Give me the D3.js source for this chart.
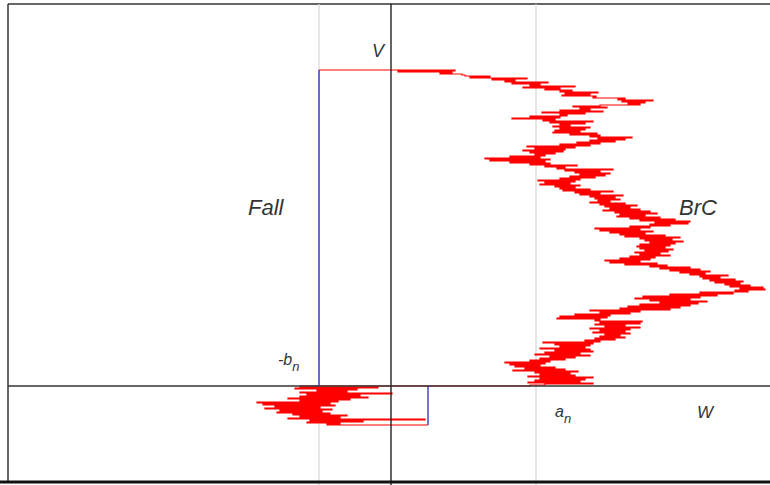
<!DOCTYPE html>
<html lang="en">
<head>
  <meta charset="UTF-8" />
  <title>BrC and Fall</title>
  <script src="https://d3js.org/d3.v7.min.js"></script>
  <style>
    body { margin: 0; background: #fff; }
    svg { display: block; }
    .lbl { font-family: "Liberation Sans", Arial, sans-serif; font-style: italic; fill: #333; }
  </style>
</head>
<body>
<div id="chart"></div>
<script>
  // levels on the W axis
  const levels = { bn: -72, an: 145 };

  // Brownian walk above the W axis: [W, V], horizontal move to W at height V
  const upperWalk = [
    [-72,316],[64,316],[7,315],[61,314],[49,313],[71,312],[74,311],[99,310],[79,309],[136,308],[101,307],
    [124,306],[114,305],[157,304],[121,303],[149,302],[139,301],[184,300],[132,299],[169,298],[154,297],
    [181,296],[169,295],[207,294],[174,293],[199,292],[171,291],[205,290],[202,289],[234,288],[227,287],
    [262,286],[231,285],[254,284],[237,283],[249,282],[209,281],[182,280],[216,279],[189,278],[199,277],
    [169,276],[212,275],[151,274],[194,273],[169,272],[176,271],[139,270],[169,269],[121,268],[164,267],
    [152,266],[202,265],[159,264],[194,263],[169,262],[179,261],[162,260],[199,259],[169,258],[194,257],
    [164,256],[189,255],[162,254],[206,253],[179,252],[209,251],[199,250],[241,249],[207,248],[234,247],
    [199,246],[224,245],[186,244],[209,243],[169,242],[199,241],[136,240],[184,239],[144,238],[174,237],
    [132,236],[172,235],[139,234],[164,233],[144,232],[154,231],[119,230],[149,229],[94,228],[159,227],
    [99,226],[154,225],[119,224],[159,223],[139,222],[186,221],[154,220],[174,219],[166,218],[222,217],
    [174,216],[209,215],[184,214],[219,213],[189,212],[214,211],[179,210],[204,209],[169,208],[189,207],
    [147,206],[184,205],[154,204],[179,203],[149,202],[189,201],[164,200],[184,199],[169,198],[199,197],
    [172,196],[222,195],[184,194],[209,193],[189,192],[232,191],[199,190],[224,189],[204,188],[229,187],
    [207,186],[219,185],[199,184],[234,183],[209,182],[246,181],[214,180],[239,179],[219,178],[249,177],
    [212,176],[259,175],[224,174],[266,173],[229,172],[254,171],[226,170],[269,169],[239,168],[284,167],
    [249,166],[299,165],[264,164],[297,163],[259,162],[279,161],[239,160],[259,159],[204,158],[249,157],
    [209,156],[262,155],[219,154],[254,153],[229,152],[274,151],[234,150],[289,149],[249,148],[281,147],
    [254,146],[292,145],[259,144],[284,143],[249,142],[279,141],[246,140],[274,139],[249,138],[282,137],
    [254,136],[277,135],[244,134],[269,133],[249,132],[279,131],[239,130],[264,129],[229,128],[259,127],
    [214,126],[249,125],[219,124],[266,123],[234,122],[276,121],[259,120],[299,119],[269,118],[309,117],
    [279,116],[319,115],[289,114],[314,113],[299,112],[337,111],[309,110],[329,109],[312,108],[344,107],
    [319,106],[352,105],[324,104],[349,103],[334,102],[359,101],[339,100],[372,99],[349,98],[374,97],
    [344,96],[357,95],[309,94],[342,93],[279,92],[326,91],[252,90],[309,89],[244,88],[299,87],
    [259,86],[316,85],[269,84],[307,83],[249,82],[299,81],[237,80],[289,79],[229,78],[279,77],
    [199,76],[249,75],[209,74],[239,73],[184,72],[219,71],[169,70],[216,69],[166,68],[209,67],
    [204,66],[251,65],[209,64],[249,63],[204,62],[234,61],[214,60],[249,59],[199,58],[239,57],
    [209,56],[234,55],[202,54],[239,53],[214,52],[229,51],[209,50],[234,49],[204,48],[224,47],
    [194,46],[209,45],[152,44],[202,43],[164,42],[199,41],[169,40],[194,39],[149,38],[199,37],
    [164,36],[202,35],[154,34],[189,33],[144,32],[199,31],[159,30],[184,29],[149,28],[174,27],
    [139,26],[159,25],[114,24],[154,23],[119,22],[149,21],[124,20],[164,19],[134,18],[174,17],
    [122,16],[187,15],[144,14],[179,13],[149,12],[184,11],[137,10],[202,9],[149,8],[194,7],
    [144,6],[189,5],[137,4],[202,3],[154,2],[139,1],[-91,0]
  ];

  // continuation below the W axis
  const lowerWalk = [
    [-91,0],[-13,-1],[-96,-2],[-34,-3],[-74,-4],[-44,-5],[-91,-6],[1,-7],[-84,-8],[-31,-9],
    [-91,-10],[-23,-11],[-103,-12],[-41,-13],[-91,-14],[-53,-15],[-134,-16],[-61,-17],[-128,-18],[-56,-19],
    [-116,-20],[-71,-21],[-126,-22],[-59,-23],[-111,-24],[-69,-25],[-114,-26],[-61,-27],[-98,-28],[-44,-29],
    [-91,-30],[-51,-31],[-103,-32],[34,-33],[-81,-34],[-28,-35],[-84,-36],[-51,-37],[-64,-38],[37,-39]
  ];

  const fallPath = [[-72, 0], [-72, 316]];
  const risePath = [[37, -39], [37, 0]];

  const labels = [
    { text: "V", w: -19, v: 329, size: 18 },
    { text: "Fall", w: -143, v: 171, size: 22 },
    { text: "BrC", w: 288, v: 171, size: 22 },
    { text: "W", w: 306, v: -32, size: 17 }
  ];
  const subLabels = [
    { base: "-b", sub: "n", w: -113, v: 21 },
    { base: "a", sub: "n", w: 164, v: -31 }
  ];

  const width = 770, height = 485;
  const x = d3.scaleLinear().domain([-383, 379]).range([8, 770]);
  const y = d3.scaleLinear().domain([-95, 382]).range([481, 4]);

  const svg = d3.select("#chart").append("svg")
    .attr("width", width).attr("height", height);

  // frame
  svg.append("line").attr("x1", x(-383)).attr("x2", x(-383)).attr("y1", y(382)).attr("y2", y(-95))
    .attr("stroke", "#333").attr("stroke-width", 1.5);
  svg.append("line").attr("x1", x(-383)).attr("x2", width).attr("y1", y(382)).attr("y2", y(382))
    .attr("stroke", "#333").attr("stroke-width", 1.5);

  // light guide lines at -b_n and a_n
  [levels.bn, levels.an].forEach(w => {
    svg.append("line").attr("x1", x(w)).attr("x2", x(w)).attr("y1", y(382)).attr("y2", height)
      .attr("stroke", "#d6d6d6").attr("stroke-width", 1.2);
  });

  const line = d3.line().x(d => x(d[0])).y(d => y(d[1])).curve(d3.curveStepBefore);

  svg.append("path").datum(upperWalk).attr("d", line)
    .attr("fill", "none").attr("stroke", "#ff0000").attr("stroke-width", 1.2);
  svg.append("path").datum(lowerWalk).attr("d", line)
    .attr("fill", "none").attr("stroke", "#ff0000").attr("stroke-width", 1.2);

  // axes
  svg.append("line").attr("x1", x(0)).attr("x2", x(0)).attr("y1", y(382)).attr("y2", height)
    .attr("stroke", "#111").attr("stroke-width", 1.3);
  svg.append("line").attr("x1", x(-383)).attr("x2", width).attr("y1", y(0)).attr("y2", y(0))
    .attr("stroke", "#333").attr("stroke-width", 1.6);
  svg.append("line").attr("x1", 0).attr("x2", width).attr("y1", 482).attr("y2", 482)
    .attr("stroke", "#111").attr("stroke-width", 3);

  // fall path
  [fallPath, risePath].forEach(p => {
    svg.append("path").datum(p).attr("d", d3.line().x(d => x(d[0])).y(d => y(d[1])))
      .attr("fill", "none").attr("stroke", "#2a2ab8").attr("stroke-width", 1.3);
  });

  labels.forEach(l => {
    svg.append("text").attr("class", "lbl").attr("x", x(l.w)).attr("y", y(l.v))
      .attr("font-size", l.size).text(l.text);
  });
  subLabels.forEach(l => {
    const t = svg.append("text").attr("class", "lbl").attr("x", x(l.w)).attr("y", y(l.v))
      .attr("font-size", 16);
    t.append("tspan").text(l.base);
    t.append("tspan").attr("dy", 6).attr("font-size", 13).text(l.sub);
  });
</script>
</body>
</html>
